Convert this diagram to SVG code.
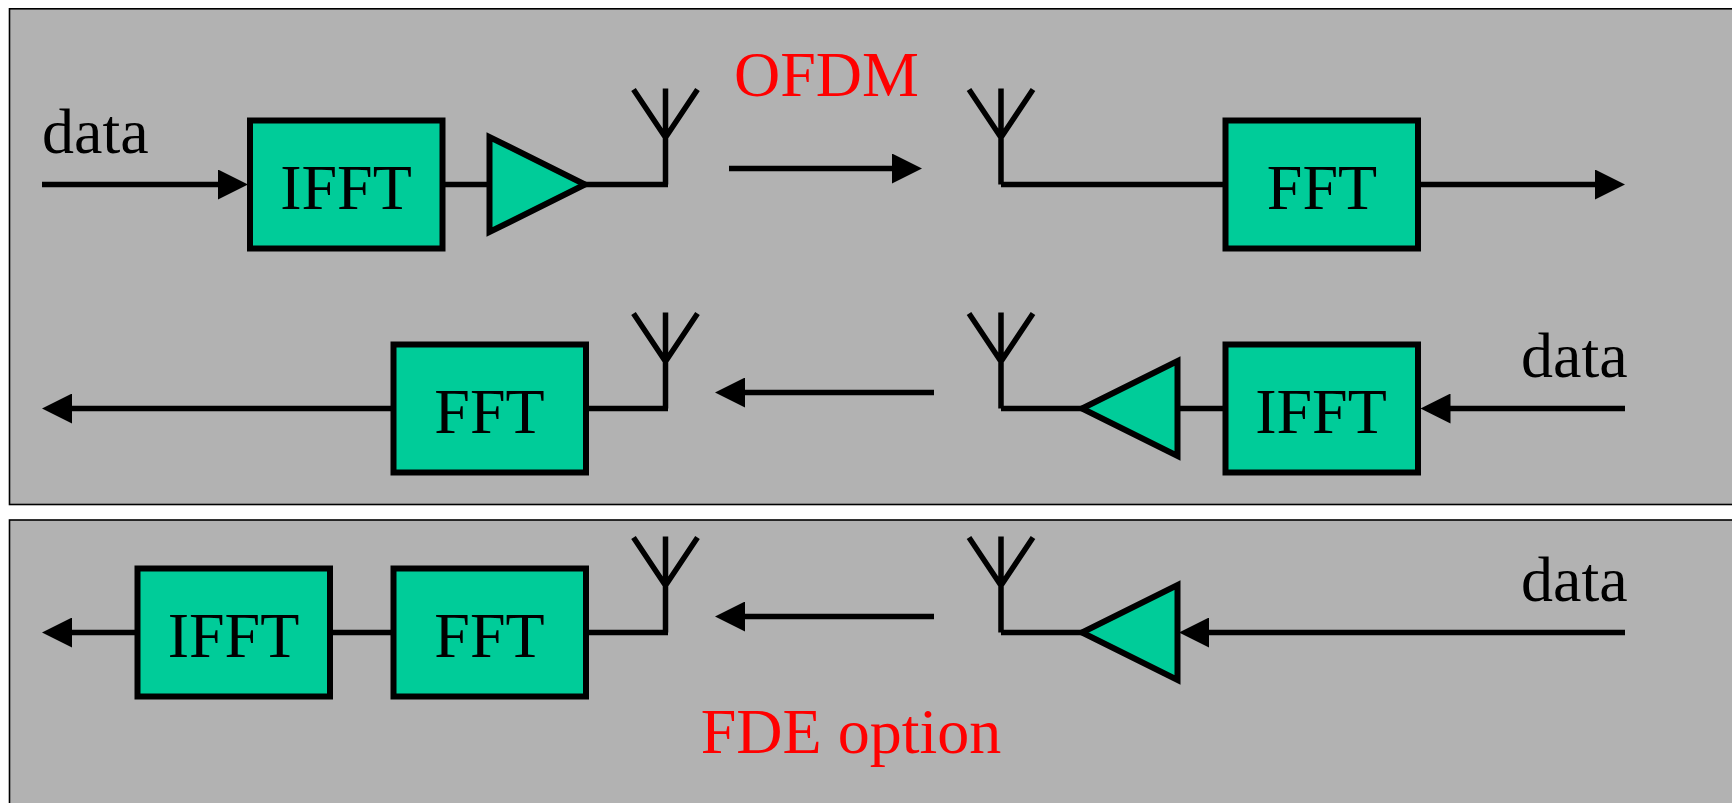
<svg xmlns="http://www.w3.org/2000/svg" width="1732" height="803" viewBox="0 0 1732 803">
<style>
.panel{fill:#b2b2b2;stroke:#000;stroke-width:1.6}
.box,.amp{fill:#00cc99;stroke:#000;stroke-width:6}
.line{fill:none;stroke:#000;stroke-width:5.5}
text{font-family:"Liberation Serif","Times New Roman",serif;font-size:64px;fill:#000}
.red{fill:#f00}
.m{text-anchor:middle}
</style>
<defs>
<marker id="arrow" markerUnits="userSpaceOnUse" markerWidth="30" markerHeight="30" refX="5" refY="15" orient="auto"><path d="M0 0L30 15L0 30Z" fill="#000"/></marker>
<path id="ant" class="line" d="M0 0V-96M0 -47L-32 -95M0 -47L32 -95"/>
</defs>
<rect class="panel" x="9.500" y="8.800" width="1740" height="495.700"/>
<rect class="panel" x="9.500" y="520" width="1740" height="300"/>
<g id="connectors">
<path class="line" marker-end="url(#arrow)" d="M42 184.500H223"/>
<path class="line" d="M444 184.500H489"/>
<path class="line" d="M585 184.500H668"/>
<path class="line" marker-end="url(#arrow)" d="M729 168.500H897"/>
<path class="line" d="M1001 184.500H1223"/>
<path class="line" marker-end="url(#arrow)" d="M1420 184.500H1600"/>
<path class="line" marker-end="url(#arrow)" d="M1625 408.500H1445.500"/>
<path class="line" d="M1223 408.500H1176"/>
<path class="line" d="M1082 408.500H1001"/>
<path class="line" marker-end="url(#arrow)" d="M934 392.500H740"/>
<path class="line" d="M668 408.500H588"/>
<path class="line" marker-end="url(#arrow)" d="M391 408.500H67"/>
<path class="line" marker-end="url(#arrow)" d="M1625 632.500H1204"/>
<path class="line" d="M1082 632.500H1001"/>
<path class="line" marker-end="url(#arrow)" d="M934 616.500H740"/>
<path class="line" d="M668 632.500H588"/>
<path class="line" d="M391 632.500H332"/>
<path class="line" marker-end="url(#arrow)" d="M135 632.500H67"/>
</g>
<g id="ifft-tx"><rect class="box" x="250" y="120.500" width="192.500" height="128"/><text class="m" x="346" y="208.500">IFFT</text></g>
<g id="amp-tx"><path class="amp" d="M489.500 137V232L585 184.500Z"/></g>
<g id="ant-1"><use href="#ant" x="665.500" y="184.500"/></g>
<g id="ant-2"><use href="#ant" x="1001" y="184.500"/></g>
<g id="fft-rx"><rect class="box" x="1225.500" y="120.500" width="192.500" height="128"/><text class="m" x="1322" y="208.500">FFT</text></g>
<g id="fft-2"><rect class="box" x="393.500" y="344.500" width="192.500" height="128"/><text class="m" x="489.500" y="432.500">FFT</text></g>
<g id="ant-3"><use href="#ant" x="665.500" y="408.500"/></g>
<g id="ant-4"><use href="#ant" x="1001" y="408.500"/></g>
<g id="amp-2"><path class="amp" d="M1177.500 361V456L1082 408.500Z"/></g>
<g id="ifft-2"><rect class="box" x="1225.500" y="344.500" width="192.500" height="128"/><text class="m" x="1321" y="432.500">IFFT</text></g>
<g id="ifft-3"><rect class="box" x="137.500" y="568.500" width="192.500" height="128"/><text class="m" x="233.500" y="656.500">IFFT</text></g>
<g id="fft-3"><rect class="box" x="393.500" y="568.500" width="192.500" height="128"/><text class="m" x="489.500" y="656.500">FFT</text></g>
<g id="ant-5"><use href="#ant" x="665.500" y="632.500"/></g>
<g id="ant-6"><use href="#ant" x="1001" y="632.500"/></g>
<g id="amp-3"><path class="amp" d="M1177.500 585V680L1082 632.500Z"/></g>
<text x="42" y="153">data</text>
<text x="1521" y="377">data</text>
<text x="1521" y="601">data</text>
<text class="red m" x="826.500" y="96">OFDM</text>
<text class="red m" x="851" y="753">FDE option</text>
</svg>
